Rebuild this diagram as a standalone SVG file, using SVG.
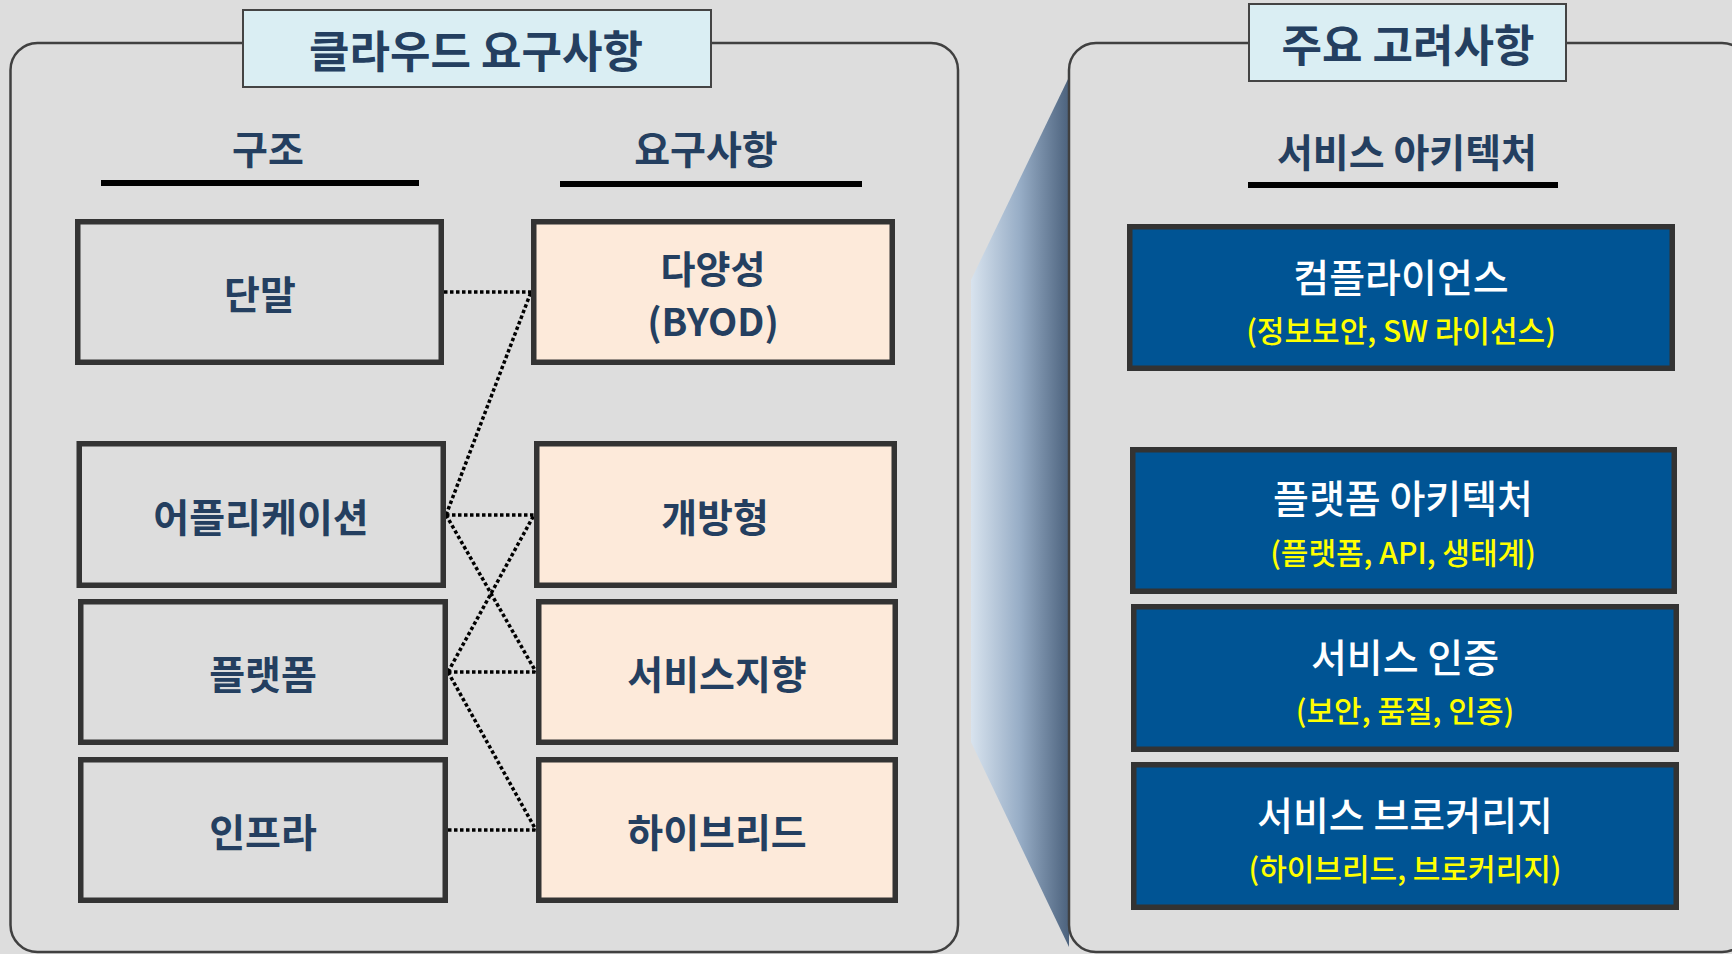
<svg xmlns="http://www.w3.org/2000/svg" width="1732" height="954" viewBox="0 0 1732 954">
<defs>
<linearGradient id="fan" x1="0" y1="0" x2="1" y2="0">
<stop offset="0" stop-color="#D8E3EE"/>
<stop offset="0.5" stop-color="#97ADC6"/>
<stop offset="1" stop-color="#4C627D"/>
</linearGradient>
<style>
text{font-family:"Noto Sans CJK KR","Noto Sans",sans-serif;text-anchor:middle;dominant-baseline:central}
.panel{fill:#DDDDDD;stroke:#404040;stroke-width:2.5}
.title{fill:#DAEEF3;stroke:#444444;stroke-width:2}
.tt{font-size:44px;font-weight:700;fill:#243F60}
.hd{font-size:39px;font-weight:700;fill:#243F60}
.ul{fill:#000000}
.sbox{fill:#DDDDDD;stroke:#333333;stroke-width:5.5}
.rbox{fill:#FDEADA;stroke:#333333;stroke-width:5.5}
.lbl{font-size:39px;font-weight:700;fill:#243F60}
.lbl2{font-size:38px;font-weight:700;fill:#243F60}
.bbox{fill:#005494;stroke:#333333;stroke-width:5.5}
.bt{font-size:39px;font-weight:500;fill:#FFFFFF}
.bs{font-size:30px;font-weight:500;fill:#FFFF00}
.dot{stroke:#000000;stroke-width:3.5;stroke-dasharray:3.5 2.5;fill:none}
</style>
</defs>
<rect x="0" y="0" width="1732" height="954" fill="#DDDDDD"/>

<g id="left-panel">
<rect class="panel" x="10.5" y="43" width="947.5" height="909" rx="27" ry="27"/>
<rect class="title" x="243" y="10" width="468" height="77"/>
<text class="tt" x="476" y="49">클라우드 요구사항</text>
</g>

<g id="fan-shape">
<polygon points="971,280 1069,77 1069,947 971,742" fill="url(#fan)"/>
</g>

<g id="right-panel">
<rect class="panel" x="1069" y="43" width="680" height="909" rx="27" ry="27"/>
<rect class="title" x="1249" y="4" width="317" height="77"/>
<text class="tt" x="1408" y="43">주요 고려사항</text>
</g>

<g id="header-structure">
<text class="hd" x="268" y="147">구조</text>
<rect class="ul" x="101" y="180" width="318" height="6"/>
</g>
<g id="header-requirements">
<text class="hd" x="706" y="147">요구사항</text>
<rect class="ul" x="560" y="181" width="302" height="6"/>
</g>
<g id="header-service-arch">
<text class="hd" x="1407" y="150">서비스 아키텍처</text>
<rect class="ul" x="1248" y="182" width="310" height="6"/>
</g>

<g id="connectors">
<line class="dot" x1="444" y1="292" x2="531" y2="292"/>
<line class="dot" x1="446" y1="515" x2="531" y2="292"/>
<line class="dot" x1="446" y1="515" x2="534" y2="515"/>
<line class="dot" x1="446" y1="515" x2="536" y2="672"/>
<line class="dot" x1="448" y1="672" x2="534" y2="515"/>
<line class="dot" x1="448" y1="672" x2="536" y2="672"/>
<line class="dot" x1="448" y1="672" x2="536" y2="830"/>
<line class="dot" x1="448" y1="830" x2="536" y2="830"/>
</g>

<g id="node-terminal">
<rect class="sbox" x="77.75" y="221.75" width="363.5" height="140.5"/>
<text class="lbl" x="260" y="292">단말</text>
</g>
<g id="node-application">
<rect class="sbox" x="79.25" y="443.75" width="364" height="141.5"/>
<text class="lbl" x="261" y="515">어플리케이션</text>
</g>
<g id="node-platform">
<rect class="sbox" x="80.75" y="601.75" width="364.5" height="140.5"/>
<text class="lbl" x="263" y="672">플랫폼</text>
</g>
<g id="node-infra">
<rect class="sbox" x="80.75" y="759.75" width="364.5" height="140.5"/>
<text class="lbl" x="263" y="830">인프라</text>
</g>

<g id="node-diversity">
<rect class="rbox" x="533.75" y="221.75" width="358.5" height="140.5"/>
<text class="lbl2" x="713" y="266">다양성</text>
<text class="lbl2" x="713" y="319">(BYOD)</text>
</g>
<g id="node-open">
<rect class="rbox" x="536.75" y="443.75" width="357.5" height="141.5"/>
<text class="lbl" x="715" y="515">개방형</text>
</g>
<g id="node-service-oriented">
<rect class="rbox" x="538.75" y="601.75" width="356.5" height="140.5"/>
<text class="lbl" x="717" y="672">서비스지향</text>
</g>
<g id="node-hybrid">
<rect class="rbox" x="538.75" y="759.75" width="356.5" height="140.5"/>
<text class="lbl" x="717" y="830">하이브리드</text>
</g>

<g id="node-compliance">
<rect class="bbox" x="1129.75" y="226.75" width="542.5" height="141.5"/>
<text class="bt" x="1401" y="275">컴플라이언스</text>
<text class="bs" x="1401" y="329">(정보보안, SW 라이선스)</text>
</g>
<g id="node-platform-arch">
<rect class="bbox" x="1132.75" y="449.75" width="541.5" height="141.5"/>
<text class="bt" x="1403" y="496">플랫폼 아키텍처</text>
<text class="bs" x="1403" y="551">(플랫폼, API, 생태계)</text>
</g>
<g id="node-service-cert">
<rect class="bbox" x="1133.75" y="606.75" width="542.5" height="142.5"/>
<text class="bt" x="1405" y="655">서비스 인증</text>
<text class="bs" x="1405" y="709">(보안, 품질, 인증)</text>
</g>
<g id="node-service-brokerage">
<rect class="bbox" x="1133.75" y="764.75" width="542.5" height="142.5"/>
<text class="bt" x="1405" y="813">서비스 브로커리지</text>
<text class="bs" x="1405" y="867">(하이브리드, 브로커리지)</text>
</g>
</svg>
